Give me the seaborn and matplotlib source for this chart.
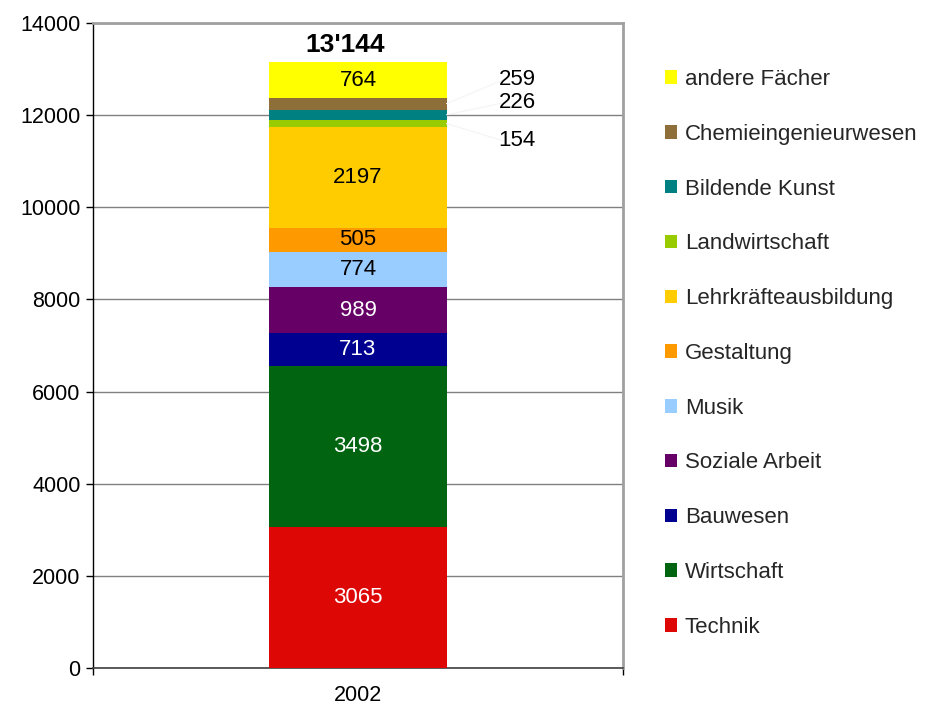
import matplotlib
matplotlib.use("Agg")
import matplotlib.pyplot as plt
import seaborn as sns
import numpy as np
from matplotlib.patches import Patch

sns.set_theme(style="white")
plt.rcParams['font.family'] = ['Liberation Sans', 'DejaVu Sans']

year = "2002"
categories = ["Technik", "Wirtschaft", "Bauwesen", "Soziale Arbeit", "Musik",
              "Gestaltung", "Lehrkräfteausbildung", "Landwirtschaft",
              "Bildende Kunst", "Chemieingenieurwesen", "andere Fächer"]
values = [3065, 3498, 713, 989, 774, 505, 2197, 154, 226, 259, 764]
colors = ["#DD0806", "#006411", "#000090", "#660066", "#99CCFF",
          "#FF9900", "#FFCC00", "#99CC00", "#008080", "#8E6F3A", "#FFFF00"]
text_colors = ["white", "white", "white", "white", "black",
               "black", "black", "black", "black", "black", "black"]
outside = [False, False, False, False, False, False, False, True, True, True, False]
outside_y = {7: 11440, 8: 12270, 9: 12770}
total_label = "13'144"
yticks = [0, 2000, 4000, 6000, 8000, 10000, 12000, 14000]

fig = plt.figure(figsize=(9.29, 7.07), dpi=100)
ax = fig.add_axes([93/929, 39/707, 530/929, 645/707])

cum = np.cumsum(values)
bw = 0.334
# draw cumulative bars from the tallest to the shortest to get a stack
for i in range(len(values) - 1, -1, -1):
    sns.barplot(x=[year], y=[cum[i]], color=colors[i], width=bw,
                saturation=1, ax=ax, linewidth=0, zorder=3)

ax.set_xlim(-0.5, 0.5)
ax.set_ylim(0, 14000)
ax.set_yticks(yticks)
ax.set_yticklabels([str(t) for t in yticks], fontsize=15.5, color="black")
ax.tick_params(axis="y", which="major", direction="out", length=5, width=1,
               color="black", pad=4, left=True)
ax.tick_params(axis="x", which="major", length=0, labelsize=15.5, pad=12,
               labelcolor="black")
ax.set_xticks([-0.5, 0.5], minor=True)
ax.tick_params(axis="x", which="minor", direction="out", length=5, width=1,
               color="black", bottom=True)
ax.set_xlabel("")
ax.set_ylabel("")
ax.yaxis.grid(True, color="#808080", linewidth=1, zorder=0)
ax.set_axisbelow(True)
for side in ["top", "right"]:
    ax.spines[side].set_color("#A0A0A0")
    ax.spines[side].set_linewidth(2)
ax.spines["left"].set_color("black")
ax.spines["left"].set_linewidth(1)
ax.spines["bottom"].set_color("#404040")
ax.spines["bottom"].set_linewidth(1.2)

bottoms = cum - np.array(values)
for i, v in enumerate(values):
    mid = bottoms[i] + v / 2
    if outside[i]:
        ty = outside_y[i]
        ax.plot([bw / 2, 0.275], [mid, ty], color="#F4F4F4", linewidth=0.8, zorder=4)
        ax.text(0.30, ty, str(v), ha="center", va="center", fontsize=16,
                color="black", zorder=5)
    else:
        ax.text(0, mid, str(v), ha="center", va="center", fontsize=16,
                color=text_colors[i], zorder=5)

ax.text(-0.025, 13530, total_label, ha="center", va="center", fontsize=19,
        fontweight="bold", color="black", zorder=5)

handles = [Patch(facecolor=colors[i], edgecolor="none", label=categories[i])
           for i in range(len(categories) - 1, -1, -1)]
fig.legend(handles=handles, loc="upper left", bbox_to_anchor=(665/929, 1 - 69/707),
           frameon=False, fontsize=16, labelspacing=1.52, handlelength=0.55,
           handleheight=0.55, handletextpad=0.35, borderpad=0, borderaxespad=0)

fig.savefig("out.png", dpi=100, facecolor="white")
